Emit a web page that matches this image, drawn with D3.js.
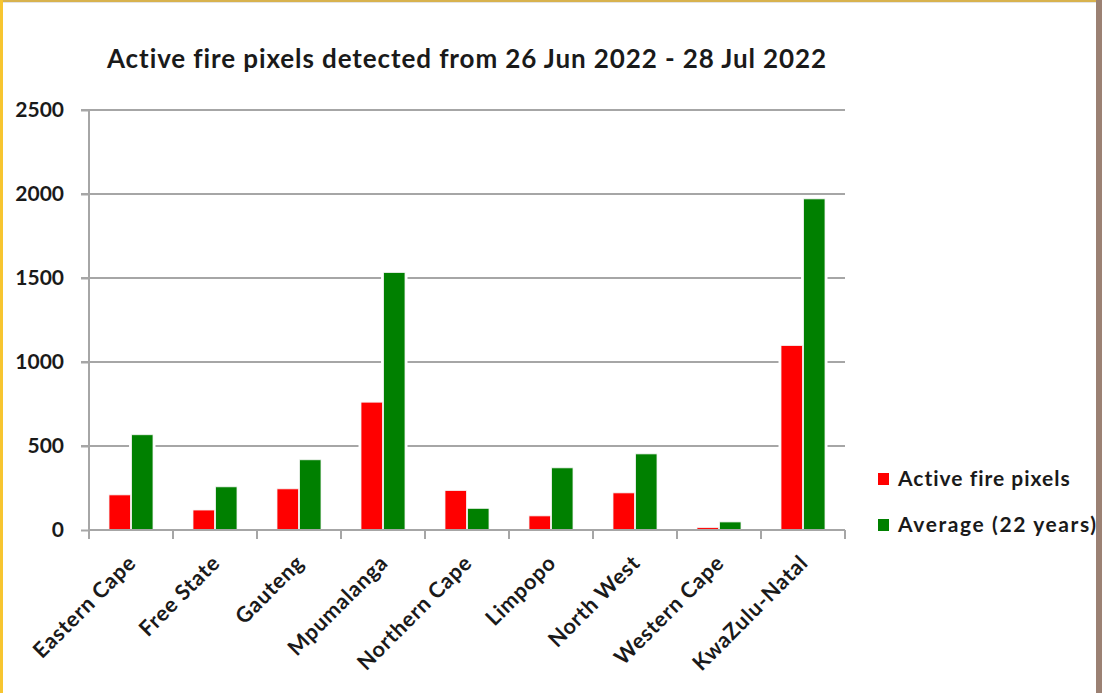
<!DOCTYPE html>
<html><head><meta charset="utf-8">
<script src="https://cdn.jsdelivr.net/npm/d3@7"></script>
<style>
html,body{margin:0;padding:0;background:#fff;}
svg{display:block;font-family:Lato,"Open Sans",sans-serif;}
</style></head>
<body>
<script>
const categories = ["Eastern Cape","Free State","Gauteng","Mpumalanga","Northern Cape","Limpopo","North West","Western Cape","KwaZulu-Natal"];
const activeFire = [209,119,245,761,235,84,221,14,1098];
const average22 = [567,257,418,1533,129,370,453,48,1971];
const seriesNames = ["Active fire pixels","Average (22 years)"];
const seriesColors = ["#ff0000","#008000"];
const yTicks = [0,500,1000,1500,2000,2500];
const title = "Active fire pixels detected from 26 Jun 2022 - 28 Jul 2022";

const W = 1102, H = 693;
const FONT = "Lato, 'Open Sans', sans-serif";
const svg = d3.select("body").append("svg").attr("width", W).attr("height", H);

// frame
svg.append("rect").attr("x",0).attr("y",0).attr("width",W).attr("height",H).attr("fill","#fff");
svg.append("rect").attr("x",0).attr("y",0).attr("width",W).attr("height",2).attr("fill","#d8b24e");
svg.append("rect").attr("x",0).attr("y",2).attr("width",W).attr("height",1).attr("fill","#e4e4e4");
svg.append("rect").attr("x",0).attr("y",0).attr("width",3).attr("height",H).attr("fill","#f7c530");

const x = d3.scaleBand().domain(categories).range([89, 845]).paddingInner(0).paddingOuter(0);
const bw = x.bandwidth();
const x1 = d3.scaleBand().domain(seriesNames).range([bw*0.238, bw*0.762]).paddingInner(0.05);
const y = d3.scaleLinear().domain([0,2500]).range([530,110]);

const grid = "#a6a6a6";
// gridlines
svg.append("g").selectAll("line").data(yTicks.filter(d=>d>0)).join("line")
  .attr("x1",81).attr("x2",845).attr("y1",d=>y(d)).attr("y2",d=>y(d))
  .attr("stroke",grid).attr("stroke-width",2);

// y axis
const yAxis = d3.axisLeft(y).tickValues(yTicks).tickSize(8).tickPadding(17).tickFormat(d3.format("d"));
const gy = svg.append("g").attr("transform","translate(89,0)").call(yAxis).attr("font-family",FONT);
gy.select(".domain").attr("stroke",grid).attr("stroke-width",2).attr("d","M0,110V530");
gy.selectAll(".tick line").attr("stroke",grid).attr("stroke-width",2);
gy.selectAll(".tick text").attr("fill","#1a1a1a").attr("font-size",21).attr("font-weight","bold");

const data = categories.map((c,i)=>({cat:c, vals:[activeFire[i], average22[i]]}));

// bars
const groups = svg.append("g").selectAll("g").data(data).join("g")
  .attr("transform", d=>`translate(${x(d.cat)},0)`);
const barData = d => d.vals.map((v,j)=>({key:seriesNames[j], v, color:seriesColors[j]}));
groups.selectAll("rect.halo").data(barData).join("rect").attr("class","halo")
  .attr("x", d=>x1(d.key)-2.5).attr("width", x1.bandwidth()+5)
  .attr("y", d=>y(d.v)-2.5).attr("height", d=>y(0)-y(d.v)+2.5)
  .attr("fill","#fff");
groups.selectAll("rect.bar").data(barData).join("rect").attr("class","bar")
  .attr("x", d=>x1(d.key)).attr("width", x1.bandwidth())
  .attr("y", d=>y(d.v)).attr("height", d=>y(0)-y(d.v))
  .attr("fill", d=>d.color).attr("stroke","#f4f4f4").attr("stroke-width",0.8);

// x axis
const xAxis = d3.axisBottom(x).tickSize(0).tickFormat(d=>d);
const gx = svg.append("g").attr("transform","translate(0,530)").call(xAxis).attr("font-family",FONT);
gx.select(".domain").attr("stroke",grid).attr("stroke-width",2).attr("d","M89,0H845");
gx.selectAll(".tick text")
  .attr("fill","#1a1a1a").attr("font-size",21.5).attr("font-weight","bold")
  .attr("letter-spacing",0.7)
  .attr("text-anchor","end")
  .attr("transform","translate(1,29) rotate(-45)")
  .attr("dy","0.35em").attr("y",0);
// boundary ticks
const bounds = categories.map(c=>x(c)).concat([x(categories[categories.length-1])+bw]);
svg.append("g").selectAll("line").data(bounds).join("line")
  .attr("x1",d=>d).attr("x2",d=>d).attr("y1",530).attr("y2",539)
  .attr("stroke",grid).attr("stroke-width",2);

// title
svg.append("text").attr("x",467).attr("y",68).attr("text-anchor","middle")
  .attr("font-size",26).attr("font-weight","bold").attr("letter-spacing",0.9)
  .attr("fill","#1a1a1a").text(title);

// legend
const lg = svg.append("g").selectAll("g").data(seriesNames).join("g")
  .attr("transform",(d,i)=>`translate(878,${479+i*46})`);
lg.append("rect").attr("x",0).attr("y",-6).attr("width",11).attr("height",12)
  .attr("fill",(d,i)=>seriesColors[i]);
lg.append("text").attr("x",20).attr("y",0).attr("dy","0.35em")
  .attr("font-size",21).attr("font-weight","bold").attr("letter-spacing",(d,i)=>i?1.6:1)
  .attr("fill","#1a1a1a").text(d=>d);

// right frame stripe (drawn last so it clips legend text like the reference)
svg.append("rect").attr("x",1096).attr("y",0).attr("width",6).attr("height",H).attr("fill","#9b8173");
</script>
</body></html>
